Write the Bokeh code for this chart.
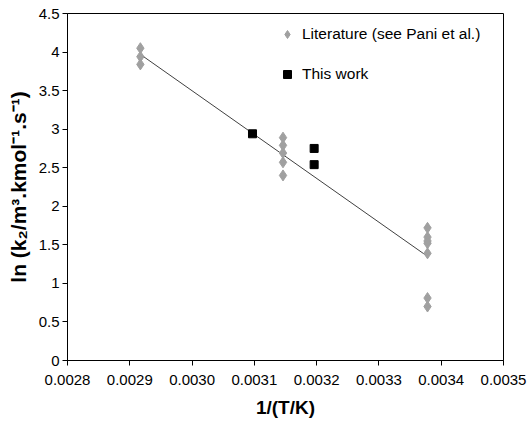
from bokeh.plotting import figure
from bokeh.models import Range1d, FixedTicker, PrintfTickFormatter, Legend, LegendItem
from bokeh.embed import file_html
from bokeh.resources import INLINE

# Literature data (see Pani et al.)
lit_x = [0.002917, 0.002917, 0.002917,
         0.003146, 0.003146, 0.003146, 0.003146, 0.003146,
         0.003378, 0.003378, 0.003378, 0.003378, 0.003378, 0.003378, 0.003378]
lit_y = [4.05, 3.94, 3.84,
         2.89, 2.79, 2.69, 2.57, 2.40,
         1.72, 1.60, 1.55, 1.52, 1.39, 0.81, 0.70]

# This work
work_x = [0.003097, 0.003196, 0.003196]
work_y = [2.94, 2.75, 2.54]

# Trend line end points
fit_x = [0.002917, 0.003378]
fit_y = [3.97, 1.35]

x_ticks = [0.0028, 0.0029, 0.0030, 0.0031, 0.0032, 0.0033, 0.0034, 0.0035]
y_ticks = [0, 0.5, 1, 1.5, 2, 2.5, 3, 3.5, 4, 4.5]
y_tick_labels = ["0", "0.5", "1", "1.5", "2", "2.5", "3", "3.5", "4", "4.5"]

x_title = "1/(T/K)"
y_title = "ln (k₂/m³.kmol⁻¹.s⁻¹)"

FONT = "Liberation Sans"

p = figure(width=528, height=424, output_backend="svg", toolbar_location=None,
           x_range=Range1d(0.0028, 0.0035), y_range=Range1d(0, 4.5),
           min_border_left=67, min_border_right=25, min_border_top=13, min_border_bottom=64)
p.xgrid.visible = False
p.ygrid.visible = False
p.outline_line_color = "black"
p.outline_line_width = 1
p.background_fill_color = "white"
p.border_fill_color = "white"

fit = p.line(fit_x, fit_y, line_color="#404040", line_width=1)
lit = p.scatter(lit_x, lit_y, marker="diamond", size=11, fill_color="#A0A0A0",
                line_color="#A0A0A0")
work = p.scatter(work_x, work_y, marker="square", size=8, fill_color="black",
                 line_color="black")

for ax in (p.xaxis[0], p.yaxis[0]):
    ax.axis_line_color = "black"
    ax.major_tick_line_color = "black"
    ax.major_tick_out = 5
    ax.major_tick_in = 0
    ax.minor_tick_line_color = None
    ax.major_label_text_font = FONT
    ax.major_label_text_font_size = "15px"
    ax.major_label_text_color = "black"
    ax.axis_label_text_font = FONT
    ax.axis_label_text_font_style = "bold"
    ax.axis_label_text_font_size = "19px"
    ax.axis_label_text_color = "black"

p.xaxis.ticker = FixedTicker(ticks=x_ticks)
p.xaxis.formatter = PrintfTickFormatter(format="%.4f")
p.xaxis.axis_label = x_title
p.xaxis.major_label_standoff = 9
p.xaxis.axis_label_standoff = 9

p.yaxis.ticker = FixedTicker(ticks=y_ticks)
p.yaxis.major_label_overrides = {t: l for t, l in zip(y_ticks, y_tick_labels)}
p.yaxis.major_label_standoff = 3
p.yaxis.axis_label = y_title
p.yaxis.axis_label_text_font_size = "21px"
p.yaxis.axis_label_standoff = 6

legend = Legend(items=[LegendItem(label="Literature (see Pani et al.)", renderers=[lit]),
                       LegendItem(label="This work", renderers=[work])],
                location=(200, 266), margin=0, padding=10,
                border_line_alpha=0, background_fill_alpha=0,
                label_text_font=FONT, label_text_font_size="15.5px",
                label_text_color="black",
                glyph_height=20, glyph_width=20, label_height=20,
                spacing=20, label_standoff=5)
p.add_layout(legend)

open("out.html", "w").write(file_html(p, INLINE))
